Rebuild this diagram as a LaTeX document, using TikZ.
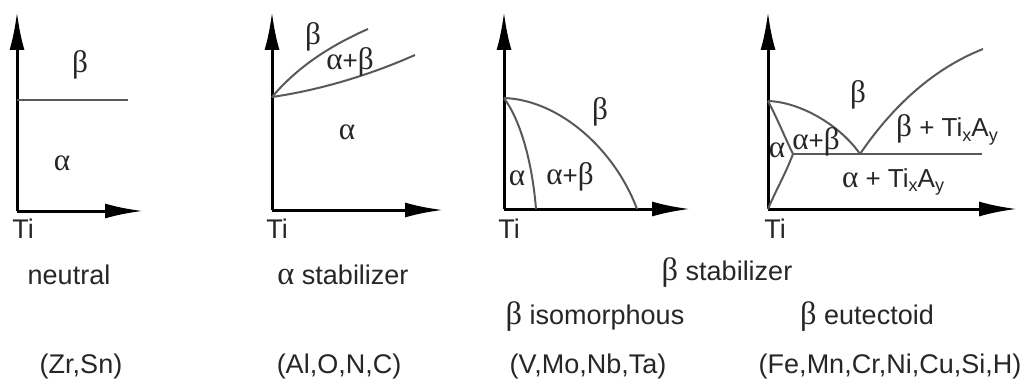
\documentclass[tikz,border=0pt]{standalone}
\usepackage{fontspec}
\setmainfont{Liberation Sans}
\newfontfamily\greekfont[Scale=1.2]{Liberation Serif}
\usepackage{tikz}
\usetikzlibrary{arrows.meta}

\newcommand{\galpha}{{\greekfont α}}
\newcommand{\gbeta}{{\greekfont β}}
\newcommand{\tixay}{Ti\raisebox{-0.35ex}{\small x}A\raisebox{-0.35ex}{\small y}}

\begin{document}
\begin{tikzpicture}[
  x=0.5pt, y=-0.5pt,
  % --- line styles ---
  axis/.style={-{Latex[length=19pt, width=7.5pt]}, line width=1.5pt, draw=black},
  phaseline/.style={line width=1pt, draw=black!65},
  % --- text styles ---
  phase/.style={font=\fontsize{13}{15}\selectfont, text=black!85, inner sep=0pt},
  caption/.style={font=\fontsize{13.5}{16}\selectfont, text=black!85, inner sep=0pt},
]
\useasboundingbox (0,0) rectangle (1034,385);

% ---------- Panel 1: neutral ----------
\coordinate (o1) at (17,211);
\coordinate (y1) at (17,12);
\coordinate (x1) at (143,211);
\coordinate (t1a) at (17,100);
\coordinate (t1b) at (128,100);
\draw[axis] (o1) -- (y1);
\draw[axis] (o1) -- (x1);
\draw[phaseline] (t1a) -- (t1b);
\node[phase] (b1) at (80,65) {\gbeta};
\node[phase] (a1) at (62,163) {\galpha};
\node[caption] (ti1) at (23,229) {Ti};

% ---------- Panel 2: alpha stabilizer ----------
\coordinate (o2) at (272,210);
\coordinate (y2) at (272,12);
\coordinate (x2) at (443,210);
\coordinate (s2) at (272,97);
\coordinate (u2) at (368,29);
\coordinate (l2) at (415,55);
\draw[axis] (o2) -- (y2);
\draw[axis] (o2) -- (x2);
\draw[phaseline] (s2) .. controls (295,70) and (325,48) .. (u2);
\draw[phaseline] (s2) .. controls (320,90) and (370,75) .. (l2);
\node[phase] (b2) at (313,37) {\gbeta};
\node[phase] (ab2) at (350,62) {\galpha+\gbeta};
\node[phase] (a2) at (347,132) {\galpha};
\node[caption] (ti2) at (277,229) {Ti};

% ---------- Panel 3: beta isomorphous ----------
\coordinate (o3) at (504,209);
\coordinate (y3) at (504,12);
\coordinate (x3) at (690,209);
\coordinate (s3) at (504,98);
\coordinate (e3) at (637,209);
\coordinate (i3) at (536,209);
\draw[axis] (o3) -- (y3);
\draw[axis] (o3) -- (x3);
\draw[phaseline] (s3) .. controls (560,100) and (615,150) .. (e3);
\draw[phaseline] (s3) .. controls (520,120) and (532,160) .. (i3);
\node[phase] (b3) at (600,112) {\gbeta};
\node[phase] (a3) at (517,178) {\galpha};
\node[phase] (ab3) at (570,177) {\galpha+\gbeta};
\node[caption] (ti3) at (509,229) {Ti};

% ---------- Panel 4: beta eutectoid ----------
\coordinate (o4) at (768,209);
\coordinate (y4) at (768,12);
\coordinate (x4) at (1017,209);
\coordinate (s4) at (768,101);
\coordinate (eut) at (860,154);
\coordinate (l4) at (793,154);
\coordinate (r4) at (982,154);
\coordinate (u4) at (983,49);
\draw[axis] (o4) -- (y4);
\draw[axis] (o4) -- (x4);
\draw[phaseline] (l4) -- (r4);
\draw[phaseline] (s4) .. controls (800,102) and (840,125) .. (eut);
\draw[phaseline] (eut) .. controls (890,110) and (930,70) .. (u4);
\draw[phaseline] (s4) .. controls (778,120) and (786,140) .. (l4)
  .. controls (785,175) and (775,192) .. (o4);
\node[phase] (b4) at (858,95) {\gbeta};
\node[phase] (bt4) at (947,130) {\gbeta\ + \tixay};
\node[phase] (ab4) at (816,142) {\galpha+\gbeta};
\node[phase] (a4) at (777,150) {\galpha};
\node[phase] (at4) at (893,182) {\galpha\ + \tixay};
\node[caption] (ti4) at (775,229) {Ti};

% ---------- Captions ----------
\node[caption] (neutral) at (69,275) {neutral};
\node[caption] (astab) at (343,275) {\galpha\ stabilizer};
\node[caption] (bstab) at (727,273) {\gbeta\ stabilizer};
\node[caption] (biso) at (595,317) {\gbeta\ isomorphous};
\node[caption] (beut) at (867,317) {\gbeta\ eutectoid};
\node[caption] (el1) at (81,367) {(Zr,Sn)};
\node[caption] (el2) at (339,367) {(Al,O,N,C)};
\node[caption] (el3) at (588,367) {(V,Mo,Nb,Ta)};
\node[caption] (el4) at (890,367) {(Fe,Mn,Cr,Ni,Cu,Si,H)};

\end{tikzpicture}
\end{document}
